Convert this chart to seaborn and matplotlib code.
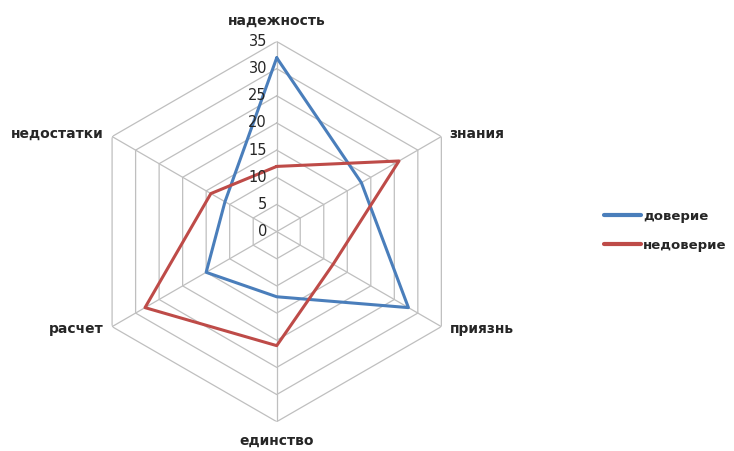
import numpy as np
import pandas as pd
import matplotlib
matplotlib.use("Agg")
import matplotlib.pyplot as plt
import seaborn as sns

# Данные лепестковой диаграммы
categorias = ["надежность", "знания", "приязнь", "единство", "расчет", "недостатки"]
doverie = [32, 18, 28, 12, 15, 11]
nedoverie = [12, 26, 12, 21, 28, 14]
series = ["доверие", "недоверие"]
escala = [0, 5, 10, 15, 20, 25, 30, 35]

colores = {"доверие": "#4a7ebb", "недоверие": "#be4b48"}
gris = "#bfbfbf"
texto = "#262626"

sns.set_theme(style="white")
plt.rcParams["font.family"] = ["DejaVu Sans"]

n = len(categorias)
angulos = np.linspace(0, 2 * np.pi, n, endpoint=False)
cerrado = np.append(angulos, angulos[0])

filas = []
for nombre, valores in zip(series, [doverie, nedoverie]):
    for ang, val in zip(cerrado, valores + valores[:1]):
        filas.append({"angulo": ang, "valor": val, "serie": nombre})
df = pd.DataFrame(filas)

fig = plt.figure(figsize=(7.34, 4.51), dpi=100)
ax = fig.add_axes([0.118, 0.065, 0.518, 0.843], projection="polar")
ax.set_theta_zero_location("N")
ax.set_theta_direction(-1)
ax.set_ylim(0, escala[-1])
ax.grid(False)
ax.spines["polar"].set_visible(False)
ax.set_xticks([])
ax.set_yticks([])

# Rejilla hexagonal
for r in escala[1:]:
    ax.plot(cerrado, [r] * len(cerrado), color=gris, lw=0.9, zorder=1)
for ang in angulos:
    ax.plot([ang, ang], [0, escala[-1]], color=gris, lw=0.9, zorder=1)

sns.lineplot(data=df, x="angulo", y="valor", hue="serie", palette=colores,
             sort=False, estimator=None, lw=2.2, ax=ax, zorder=3)
ax.set_xlabel("")
ax.set_ylabel("")

# Valores de la escala
for r in escala:
    ax.annotate(str(r), xy=(0, r), xytext=(-7, 0), textcoords="offset points",
                ha="right", va="center", fontsize=10.5, color=texto)

# Etiquetas de categorías
offsets = [(0, 10, "center", "bottom"), (6, 2, "left", "center"),
           (6, -2, "left", "center"), (0, -9, "center", "top"),
           (-6, -2, "right", "center"), (-6, 2, "right", "center")]
for ang, cat, (dx, dy, ha, va) in zip(angulos, categorias, offsets):
    ax.annotate(cat, xy=(ang, escala[-1]), xytext=(dx, dy), textcoords="offset points",
                ha=ha, va=va, fontsize=10, fontweight="bold", color=texto)

handles, labels = ax.get_legend_handles_labels()
leg = fig.legend(handles, labels, loc="center left", bbox_to_anchor=(0.81, 0.488),
                 frameon=False, handlelength=2.8, handletextpad=0.2,
                 labelspacing=1.2, borderpad=0.2, prop={"size": 9.5, "weight": "bold"})
for t in leg.get_texts():
    t.set_color(texto)
for l in leg.get_lines():
    l.set_linewidth(3)
if ax.get_legend() is not None:
    ax.get_legend().remove()

fig.savefig("out.png", dpi=100, facecolor="white")
